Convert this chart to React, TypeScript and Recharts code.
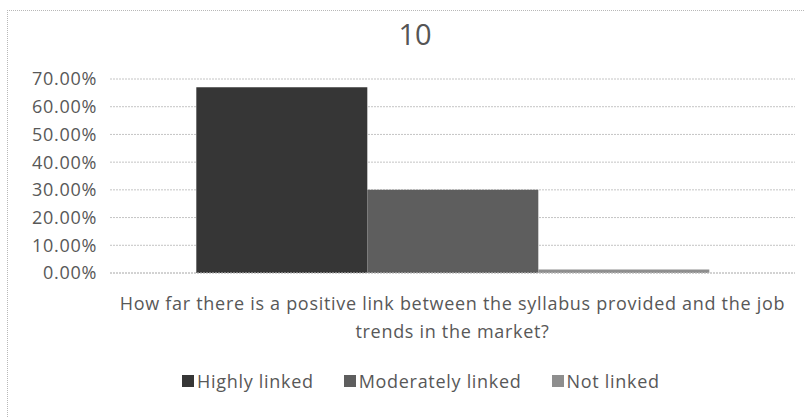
import { BarChart, Bar, XAxis, YAxis, CartesianGrid, Legend } from "recharts";

const categories = ["How far there is a positive link between the syllabus provided and the job trends in the market?"];
const categoryLines = ["How far there is a positive link between the syllabus provided and the job", "trends in the market?"];
const seriesNames = ["Highly linked", "Moderately linked", "Not linked"];
const highlyLinked = [67];
const moderatelyLinked = [30];
const notLinked = [1.3];
const yTicks = [0, 10, 20, 30, 40, 50, 60, 70];
const chartTitle = "10";

const seriesColors = ["#363636", "#5e5e5e", "#8e8e8e"];
const font = "'Open Sans', 'Noto Sans', sans-serif";
const textColor = "#585858";
const fontSize = 18;
const spacing = 0.7;

const data = categories.map((name, i) => ({
  name,
  highly: highlyLinked[i],
  moderately: moderatelyLinked[i],
  not: notLinked[i],
}));

const QuestionTick = ({ x, y }: any) => (
  <g>
    {categoryLines.map((line, i) => (
      <text
        key={i}
        x={x}
        y={y + 29 + i * 28}
        textAnchor="middle"
        fill={textColor}
        fontSize={fontSize}
        fontFamily={font}
        letterSpacing={spacing}
      >
        {line}
      </text>
    ))}
  </g>
);

const LegendContent = () => (
  <div
    style={{
      display: "flex",
      gap: 30,
      fontFamily: font,
      fontSize,
      letterSpacing: spacing,
      color: textColor,
    }}
  >
    {seriesNames.map((s, i) => (
      <div key={s} style={{ display: "flex", alignItems: "center" }}>
        <span style={{ width: 12, height: 12, background: seriesColors[i], marginRight: 3, display: "inline-block" }} />
        <span>{s}</span>
      </div>
    ))}
  </div>
);

export default function App() {
  return (
    <div style={{ position: "absolute", left: 0, top: 0, width: 805, height: 417, background: "#fff", overflow: "hidden" }}>
      <div
        style={{
          position: "absolute",
          left: 7,
          top: 10,
          width: 820,
          height: 420,
          borderLeft: "1px dotted #b8b8b8",
          borderTop: "1px dotted #b8b8b8",
        }}
      />
      <div
        style={{
          position: "absolute",
          top: 14,
          left: 0,
          width: 830,
          textAlign: "center",
          fontFamily: font,
          fontSize: 29,
          color: "#555",
        }}
      >
        {chartTitle}
      </div>
      <div style={{ position: "absolute", left: 0, top: 0 }}>
        <BarChart
          width={805}
          height={417}
          data={data}
          margin={{ top: 79, right: 10, left: 0, bottom: 0 }}
          barCategoryGap="12.6%"
          barGap={0}
        >
          <CartesianGrid vertical={false} stroke="#c4c4c4" strokeDasharray="2 1" />
          <XAxis
            dataKey="name"
            height={144}
            axisLine={{ stroke: "#c4c4c4", strokeDasharray: "2 1" }}
            tickLine={false}
            tick={<QuestionTick />}
            interval={0}
          />
          <YAxis
            width={110}
            domain={[0, 70]}
            ticks={yTicks}
            axisLine={false}
            tickLine={false}
            tickMargin={7}
            tickFormatter={(v: number) => v.toFixed(2) + "%"}
            tick={{ fill: textColor, fontSize, fontFamily: font, letterSpacing: spacing }}
          />
          <Legend
            layout="horizontal"
            verticalAlign="middle"
            align="center"
            wrapperStyle={{ top: 369, left: 182, width: 600 }}
            content={<LegendContent />}
          />
          <Bar dataKey="highly" name={seriesNames[0]} fill={seriesColors[0]} isAnimationActive={false} />
          <Bar dataKey="moderately" name={seriesNames[1]} fill={seriesColors[1]} isAnimationActive={false} />
          <Bar dataKey="not" name={seriesNames[2]} fill={seriesColors[2]} isAnimationActive={false} />
        </BarChart>
      </div>
    </div>
  );
}
